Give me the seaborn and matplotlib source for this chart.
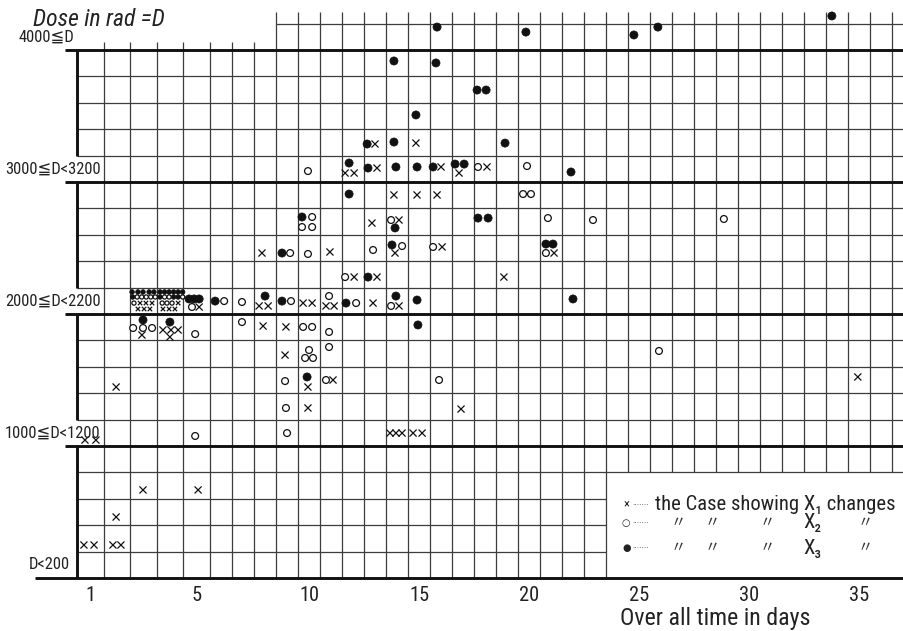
import numpy as np
import pandas as pd
import matplotlib
matplotlib.use("Agg")
import matplotlib.pyplot as plt
import matplotlib.transforms as mtransforms
import seaborn as sns
from matplotlib import font_manager

day_ticks = [1, 5, 10, 15, 20, 25, 30, 35]
row_labels = ["D<200", "1000≦D<1200", "2000≦D<2200", "3000≦D<3200", "4000≦D"]
row_label_dose = [100, 1100, 2100, 3100, 4100]

# x : the case showing X1 changes
x1_day = [0.76, 1.14, 1.85, 2.15, 1.97, 2.98, 5.05,
          0.80, 1.21, 13.68, 13.95, 14.23, 14.73, 15.14,
          9.95, 16.91, 1.97, 9.95, 11.09, 34.95, 8.91,
          2.94, 3.73, 4.03, 4.30, 3.99, 7.91, 8.95,
          2.87, 3.09, 3.32, 2.79, 3.02, 3.24, 4.30, 3.73, 3.96, 4.18,
          5.09, 7.73, 8.14, 9.73, 10.14, 10.77, 11.14, 12.91, 14.09,
          12.05, 13.09, 18.86, 7.86, 10.95, 13.91, 16.05, 21.14,
          12.86, 14.09, 13.86, 14.91, 15.82,
          11.64, 12.05, 13.09, 16.0, 16.82, 18.09, 13.0, 14.86]
x1_dose = [250, 250, 250, 250, 462, 667, 667,
           1045, 1045, 1098, 1098, 1098, 1098, 1098,
           1288, 1280, 1447, 1447, 1500, 1523, 1689,
           1841, 1879, 1879, 1879, 1826, 1909, 1902,
           2083, 2083, 2083, 2038, 2038, 2038, 2083, 2038, 2038, 2038,
           2053, 2061, 2061, 2083, 2083, 2061, 2061, 2083, 2061,
           2280, 2280, 2280, 2462, 2470, 2462, 2508, 2462,
           2689, 2712, 2902, 2902, 2902,
           3068, 3068, 3106, 3114, 3068, 3114, 3288, 3295]

# o : X2 changes
x2_day = [4.94, 9.0, 8.95, 8.91, 10.77, 15.91,
          10.0, 9.82, 10.18, 10.91, 25.91,
          2.61, 2.98, 3.32, 4.94, 6.95, 9.73, 10.14, 10.91,
          2.76, 2.93, 3.10, 3.27, 3.44, 2.64, 3.79, 3.96, 4.47, 3.70, 3.88, 4.07,
          4.82, 6.14, 6.95, 9.18, 10.91, 12.14, 13.73,
          11.64, 9.14, 9.95, 12.91, 14.23, 15.64, 20.77,
          10.14, 9.68, 10.14, 13.73, 20.86, 22.91, 28.86,
          19.73, 20.09, 9.95, 17.68, 19.91]
x2_dose = [1076, 1098, 1288, 1492, 1500, 1500,
           1727, 1667, 1667, 1750, 1720,
           1894, 1894, 1894, 1848, 1939, 1902, 1902, 1864,
           2129, 2129, 2129, 2129, 2129, 2083, 2129, 2129, 2129, 2083, 2083, 2083,
           2053, 2098, 2091, 2098, 2136, 2083, 2061,
           2280, 2462, 2455, 2485, 2515, 2508, 2462,
           2735, 2659, 2659, 2712, 2727, 2712, 2720,
           2909, 2909, 3083, 3114, 3121]

# filled dot : X3 changes
x3_day = [9.91, 2.98, 3.99, 14.95,
          2.57, 2.79, 2.98, 3.21, 3.39, 2.59,
          3.62, 3.79, 3.96, 4.13, 4.30, 4.47, 3.62, 4.13, 4.30,
          4.71, 4.90, 5.09, 5.73, 8.0, 8.77, 11.68, 13.95, 14.91, 22.0,
          12.68, 8.77, 13.77, 20.77, 21.09,
          9.68, 13.91, 17.68, 18.14, 11.82,
          11.82, 12.68, 13.95, 14.91, 15.64, 16.64, 17.05, 21.91,
          12.64, 13.86, 18.91, 14.86, 17.64, 18.05, 13.86, 15.77,
          15.82, 19.86, 24.77, 25.86, 33.77]
x3_dose = [1523, 1955, 1939, 1917,
           2167, 2167, 2167, 2167, 2167, 2129,
           2167, 2167, 2167, 2167, 2167, 2167, 2129, 2129, 2129,
           2114, 2114, 2114, 2098, 2136, 2098, 2083, 2136, 2106, 2114,
           2280, 2462, 2523, 2530, 2530,
           2735, 2652, 2727, 2727, 2909,
           3144, 3106, 3114, 3114, 3114, 3136, 3136, 3076,
           3288, 3303, 3295, 3508, 3697, 3697, 3917, 3902,
           4174, 4136, 4114, 4174, 4258]

df = pd.concat([
    pd.DataFrame({"day": x1_day, "dose": x1_dose, "kind": "X1"}),
    pd.DataFrame({"day": x2_day, "dose": x2_dose, "kind": "X2"}),
    pd.DataFrame({"day": x3_day, "dose": x3_dose, "kind": "X3"}),
], ignore_index=True)
# cells crowded with many cases are drawn with smaller marks
cell = list(zip(np.floor(df["day"] + 0.5), df["dose"] // 200))
counts = pd.Series(cell).map(pd.Series(cell).value_counts())
df["dense"] = (counts > 6).values

# ---- fonts: the lettering on the sheet is tall and narrow ----
sns.set_style("white")
fonts = font_manager.fontManager.ttflist
names = {f.name for f in fonts}
main_font, stretch = "Liberation Sans", "normal"
for cand in ["Liberation Sans Narrow", "Roboto Condensed", "Open Sans Condensed",
             "Noto Sans Condensed", "DejaVu Sans Condensed"]:
    if cand in names:
        main_font = cand
        break
else:
    for fam in ["Roboto", "Noto Sans", "Open Sans", "DejaVu Sans"]:
        if any(f.name == fam and f.stretch in ("condensed", "semi-condensed") for f in fonts):
            main_font, stretch = fam, "condensed"
            break
plt.rcParams["font.family"] = [main_font, "DejaVu Sans", "Noto Sans CJK JP"]
plt.rcParams["font.stretch"] = stretch

W, H = 904, 631
fig = plt.figure(figsize=(W / 100, H / 100), dpi=100)
ax = fig.add_axes([77 / W, 53 / H, 827 / W, 578 / H])
renderer = fig.canvas.get_renderer()


def fit(t, width_px):
    # scale a text so it spans the same width as the hand lettering
    w = t.get_window_extent(renderer).width
    t.set_fontsize(t.get_fontsize() * width_px / w)
    return t


# days 1-5 are drawn a little wider on the original sheet
scale_d = [-20.0, 0.5, 5.5, 60.0]
scale_u = [-20.5 * 1.21, 0.0, 6.05, 6.05 + 54.5]
ax.set_xscale("function", functions=(lambda d: np.interp(d, scale_d, scale_u),
                                     lambda u: np.interp(u, scale_u, scale_d)))
ax.set_xlim(0.5, 37.05)
ax.set_ylim(0, 4379)
for s in ax.spines.values():
    s.set_visible(False)

thin = dict(color="#3c3c3c", linewidth=0.9, zorder=1)
thick = dict(color="#111111", linewidth=2.1, zorder=2)
right = 37.05

# vertical grid: one column per day, legend box cut out bottom right
for b in np.arange(1.5, 37.5, 1.0):
    lo = 800 if b > 23.5 else 0
    hi = 4290 if b >= 8.5 else 4060
    ax.vlines(b, lo, hi, clip_on=False, **thin)
# horizontal grid: 200 rad bands
for d in range(200, 4000, 200):
    if d % 1000 == 0:
        continue
    ax.hlines(d, 0.5, 23.5 if d < 800 else right, clip_on=False, **thin)
ax.hlines(4200, 8.5, right, clip_on=False, **thin)
ax.hlines([1000, 2000, 3000, 4000], 0.05, right, clip_on=False, **thick)
ax.hlines(0, -1.08, right, clip_on=False, **thick)
# left axis, broken where the band labels are written
for lo, hi in [(0, 1000), (1200, 2000), (2200, 3000), (3200, 4000)]:
    ax.vlines(0.5, lo, hi, clip_on=False, **thick)

# ---- marks ----
sns.scatterplot(data=df[df.kind == "X1"], x="day", y="dose", marker="x",
                size="dense", sizes={True: 10, False: 26}, color="#111111",
                linewidth=0.9, legend=False, ax=ax, zorder=4, clip_on=False)
sns.scatterplot(data=df[df.kind == "X2"], x="day", y="dose", marker="o",
                size="dense", sizes={True: 9, False: 24}, color="#111111",
                facecolor="white", edgecolor="#111111", linewidth=0.9,
                legend=False, ax=ax, zorder=4, clip_on=False)
sns.scatterplot(data=df[df.kind == "X3"], x="day", y="dose", marker="o",
                size="dense", sizes={True: 11, False: 34}, color="#111111",
                edgecolor="#111111", linewidth=0.5, legend=False, ax=ax,
                zorder=4, clip_on=False)

# ---- ticks and labels ----
probe = fig.text(0, 0, "35", fontsize=12)
tick_size = fit(probe, 20).get_fontsize()
probe.remove()
ax.set_xticks(day_ticks)
ax.set_xticklabels([str(t) for t in day_ticks], fontsize=tick_size, color="#222222")
ax.set_yticks([])
ax.tick_params(axis="x", length=0, pad=6)
ax.set_xlabel("")
ax.set_ylabel("")

# band labels share one size, set by the longest one
probe = fig.text(0, 0, "3000≦D<3200", fontsize=12)
band_size = fit(probe, 95).get_fontsize()
probe.remove()
trans = mtransforms.blended_transform_factory(fig.transFigure, ax.transData)
label_right = [70, 100, 101, 101, 74]
for lab, d, r in zip(row_labels, row_label_dose, label_right):
    ax.text(r / W, d, lab, transform=trans, ha="right", va="center",
            fontsize=band_size, color="#222222", zorder=5)

fig.text(33 / W, 1 - 19 / H, "Dose in rad =D", ha="left", va="center",
         fontsize=17, style="italic", color="#222222")
fit(fig.text(715 / W, 1 - 618 / H, "Over all time in days", ha="center",
             va="center", fontsize=15, color="#222222"), 190)

# legend box text
fig.text(623 / W, 1 - 504 / H, "×", ha="left", va="center", fontsize=9, color="#222222")
fig.text(632 / W, 1 - 505 / H, "·······", ha="left", va="center", fontsize=7, color="#444444")
leg = fit(fig.text(655 / W, 1 - 504 / H, "the Case showing X₁ changes",
                   ha="left", va="center", fontsize=15, color="#222222"), 240)
for yy, mk, sub in [(523, "○", "X₂"), (548, "●", "X₃")]:
    fig.text(622 / W, 1 - yy / H, mk, ha="left", va="center", fontsize=7, color="#222222")
    fig.text(632 / W, 1 - yy / H, "·······", ha="left", va="center", fontsize=7, color="#444444")
    for xx in [678, 712, 767, 865]:
        fig.text(xx / W, 1 - yy / H, "〃", ha="center", va="center", fontsize=11,
                 style="italic", color="#333333")
    fig.text(812 / W, 1 - yy / H, sub, ha="center", va="center",
             fontsize=leg.get_fontsize(), color="#222222")

fig.savefig("out.png", dpi=100, facecolor="white")
